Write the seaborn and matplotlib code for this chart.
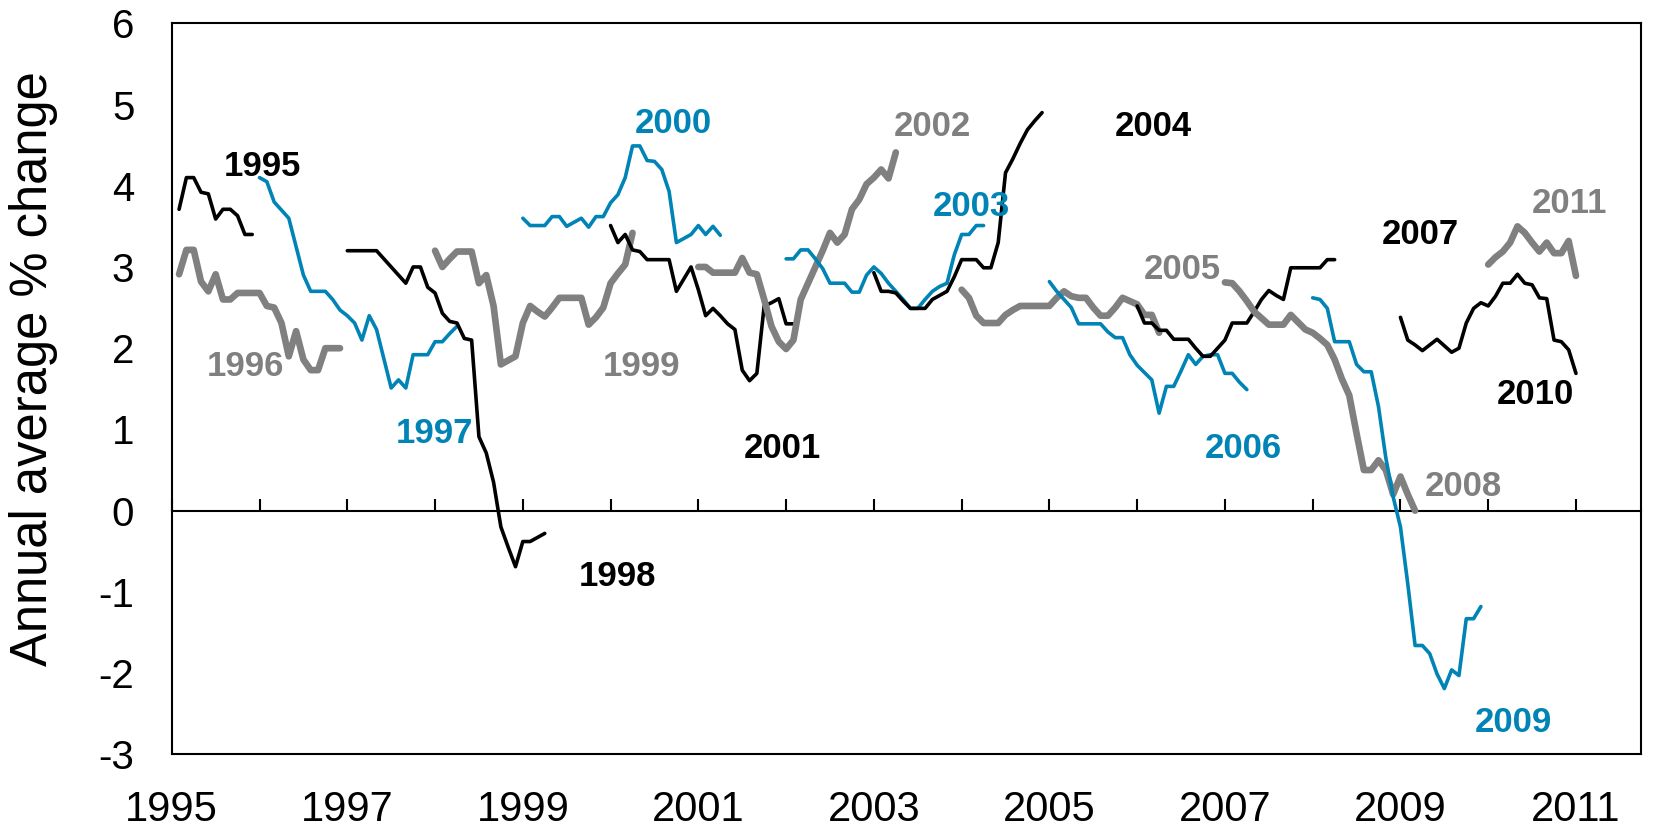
import matplotlib
matplotlib.use("Agg")
import matplotlib.pyplot as plt
import pandas as pd
import seaborn as sns

BLACK = "#000000"
GRAY = "#808080"
BLUE = "#0083B5"

# forecast year, first month of the forecast run, monthly forecasts (annual average % change)
years = list(range(1995, 2012))
start_months = ["1995-02", "1995-02", "1996-01", "1997-01", "1998-01", "1999-01",
                "2000-01", "2001-01", "2002-01", "2003-01", "2004-01", "2005-01",
                "2006-01", "2007-01", "2008-01", "2009-01", "2010-01"]

f1995 = [3.71, 4.1, 4.1, 3.92, 3.9, 3.59, 3.71, 3.71, 3.63, 3.4, 3.4]
f1996 = [2.91, 3.21, 3.21, 2.82, 2.7, 2.91, 2.6, 2.6, 2.68, 2.68, 2.68,
         2.68, 2.52, 2.5, 2.31, 1.9, 2.21, 1.86, 1.73, 1.73, 2.0, 2.0, 2.0]
f1997 = [4.1, 4.05, 3.8, 3.7, 3.6, 3.25, 2.9, 2.7, 2.7, 2.7, 2.6, 2.47,
         2.4, 2.31, 2.1, 2.4, 2.23, 1.87, 1.51, 1.61, 1.51, 1.92, 1.92, 1.92,
         2.08, 2.08, 2.18, 2.27]
f1998 = [3.2, 3.2, 3.2, 3.2, 3.2, 3.1, 3.0, 2.9, 2.8, 3.0, 3.0, 2.75,
         2.68, 2.43, 2.33, 2.31, 2.12, 2.1, 0.91, 0.71, 0.35, -0.2, -0.45, -0.69,
         -0.38, -0.38, -0.33, -0.28]
f1999 = [3.2, 3.0, 3.1, 3.19, 3.19, 3.19, 2.8, 2.9, 2.52, 1.8, 1.85, 1.9,
         2.31, 2.52, 2.45, 2.39, 2.5, 2.62, 2.62, 2.62, 2.62, 2.29, 2.38, 2.5,
         2.8, 2.92, 3.03, 3.42]
f2000 = [3.6, 3.51, 3.51, 3.51, 3.62, 3.62, 3.5, 3.55, 3.6, 3.49, 3.62, 3.62,
         3.79, 3.89, 4.1, 4.49, 4.49, 4.31, 4.3, 4.2, 3.93, 3.3, 3.35, 3.4,
         3.51, 3.4, 3.5, 3.39]
f2001 = [3.51, 3.3, 3.4, 3.21, 3.19, 3.09, 3.09, 3.09, 3.09, 2.7, 2.85, 3.0,
         2.72, 2.4, 2.49, 2.4, 2.3, 2.23, 1.73, 1.6, 1.69, 2.52, 2.56, 2.61,
         2.3, 2.3]
f2002 = [3.0, 3.0, 2.93, 2.93, 2.93, 2.93, 3.11, 2.93, 2.91, 2.6, 2.27, 2.08,
         1.99, 2.1, 2.6, 2.8, 3.0, 3.2, 3.42, 3.3, 3.4, 3.71, 3.83, 4.02,
         4.1, 4.2, 4.09, 4.41]
f2003 = [3.1, 3.1, 3.21, 3.21, 3.1, 2.98, 2.8, 2.8, 2.8, 2.69, 2.69, 2.9,
         3.0, 2.92, 2.8, 2.7, 2.6, 2.49, 2.49, 2.6, 2.7, 2.76, 2.8, 3.15,
         3.4, 3.4, 3.51, 3.51]
f2004 = [2.93, 2.7, 2.7, 2.68, 2.58, 2.49, 2.49, 2.49, 2.6, 2.65, 2.7, 2.88,
         3.09, 3.09, 3.09, 2.99, 2.99, 3.3, 4.16, 4.33, 4.52, 4.69, 4.8, 4.9]
f2005 = [2.72, 2.62, 2.4, 2.31, 2.31, 2.31, 2.41, 2.47, 2.52, 2.52, 2.52, 2.52,
         2.52, 2.62, 2.7, 2.64, 2.62, 2.62, 2.5, 2.4, 2.4, 2.5, 2.62, 2.58,
         2.54, 2.41, 2.41, 2.19]
f2006 = [2.82, 2.7, 2.6, 2.5, 2.3, 2.3, 2.3, 2.3, 2.2, 2.13, 2.13, 1.92,
         1.79, 1.7, 1.61, 1.2, 1.53, 1.53, 1.72, 1.92, 1.8, 1.9, 1.92, 1.92,
         1.69, 1.69, 1.58, 1.49]
f2007 = [2.52, 2.31, 2.31, 2.22, 2.22, 2.11, 2.11, 2.11, 2.0, 1.9, 1.9, 2.0,
         2.1, 2.31, 2.31, 2.31, 2.45, 2.6, 2.71, 2.65, 2.6, 2.99, 2.99, 2.99,
         2.99, 2.99, 3.09, 3.09]
f2008 = [2.81, 2.8, 2.7, 2.58, 2.45, 2.37, 2.29, 2.29, 2.29, 2.41, 2.32, 2.23,
         2.19, 2.12, 2.04, 1.86, 1.62, 1.42, 0.95, 0.5, 0.5, 0.62, 0.5, 0.2,
         0.42, 0.2, 0.0]
f2009 = [2.62, 2.6, 2.49, 2.08, 2.08, 2.08, 1.8, 1.71, 1.71, 1.28, 0.65, 0.17,
         -0.2, -0.9, -1.66, -1.66, -1.76, -2.01, -2.19, -1.96, -2.03, -1.33, -1.33, -1.18]
f2010 = [2.38, 2.1, 2.04, 1.97, 2.04, 2.11, 2.03, 1.95, 2.0, 2.31, 2.49, 2.56,
         2.52, 2.64, 2.8, 2.8, 2.91, 2.8, 2.78, 2.62, 2.61, 2.1, 2.08, 1.98,
         1.69]
f2011 = [3.03, 3.12, 3.19, 3.3, 3.5, 3.42, 3.3, 3.19, 3.3, 3.17, 3.17, 3.32,
         2.89]

forecasts = [f1995, f1996, f1997, f1998, f1999, f2000, f2001, f2002, f2003,
             f2004, f2005, f2006, f2007, f2008, f2009, f2010, f2011]

# where each year's label sits (decimal year, % change)
label_x = [1996.03, 1995.84, 1997.99, 2000.08, 2000.35, 2000.72, 2001.96, 2003.67,
           2004.11, 2006.18, 2006.51, 2007.21, 2009.23, 2009.72, 2010.29, 2010.54, 2010.93]
label_y = [4.24, 1.77, 0.95, -0.81, 1.77, 4.76, 0.77, 4.73,
           3.75, 4.73, 2.97, 0.77, 3.40, 0.30, -2.61, 1.43, 3.78]

rows = []
for yr, start, vals in zip(years, start_months, forecasts):
    y0, m0 = int(start[:4]), int(start[5:])
    for i, v in enumerate(vals):
        rows.append({"forecast": yr, "date": y0 + (m0 - 1 + i) / 12, "value": v})
df = pd.DataFrame(rows)

colors = [BLACK, GRAY, BLUE]
widths = {BLACK: 2.6, GRAY: 4.8, BLUE: 2.6}

sns.set_theme(style="white")
plt.rcParams["font.family"] = ["Liberation Sans", "DejaVu Sans"]
plt.rcParams["axes.unicode_minus"] = False

fig = plt.figure(figsize=(16.58, 8.34), dpi=100)
ax = fig.add_axes([0.1036, 0.0955, 0.8861, 0.8766])

for k, yr in enumerate(years):
    c = colors[k % 3]
    sns.lineplot(data=df[df["forecast"] == yr], x="date", y="value", color=c,
                 linewidth=widths[c], estimator=None, ax=ax,
                 solid_capstyle="round", solid_joinstyle="round")
    ax.text(label_x[k], label_y[k], str(yr), color=c, fontsize=25,
            fontweight="bold", ha="center", va="center")

ax.set_xlim(1995, 2011.74)
ax.set_ylim(-3, 6)
ax.set_xlabel("")
ax.set_ylabel("")
ax.set_xticks(range(1995, 2012, 2))
ax.set_yticks(range(-3, 7))
ax.tick_params(axis="x", length=0, pad=26, labelsize=30, colors=BLACK)
ax.tick_params(axis="y", direction="in", length=9, width=1.5, pad=27,
               labelsize=29, colors=BLACK)
for s in ax.spines.values():
    s.set_color(BLACK)
    s.set_linewidth(1.5)
    s.set_visible(True)

# zero line with a tick for each year
zero = ax.secondary_xaxis(1 / 3)
zero.set_xticks(range(1995, 2012))
zero.tick_params(axis="x", direction="in", length=9, width=1.5,
                 labelbottom=False, labeltop=False, colors=BLACK)
for s in zero.spines.values():
    s.set_color(BLACK)
    s.set_linewidth(1.5)

fig.text(0.0205, 0.558, "Annual average % change", rotation=90,
         fontsize=36.5, ha="center", va="center", color=BLACK)

fig.savefig("out.png", dpi=100)
